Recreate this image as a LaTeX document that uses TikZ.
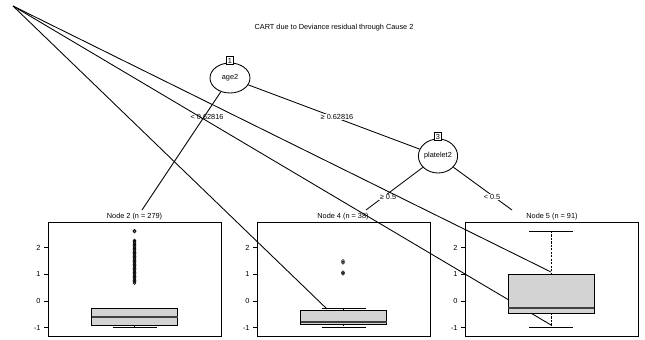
\documentclass[tikz,border=0pt]{standalone}
\usepackage{fontspec}
\setmainfont{Liberation Sans}
\usetikzlibrary{shapes.geometric}
\definecolor{boxgray}{RGB}{211,211,211}
\tikzset{
  innernode/.style={ellipse, draw, fill=white, inner sep=0pt},
  idbox/.style={draw, fill=white, inner sep=0pt, minimum width=5.4pt, minimum height=6.4pt},
  elabel/.style={fill=white, inner sep=0.6pt},
  plabel/.style={inner sep=0.6pt},
  panel/.style={draw, line width=0.7pt},
  bxfill/.style={draw, fill=boxgray, line width=0.6pt},
  whisk/.style={dash pattern=on 1.6pt off 1pt},
  outl/.style={line width=0.4pt},
  ticklab/.style={anchor=east, inner sep=0pt}
}
\begin{document}
\begin{tikzpicture}[x=0.75pt, y=-0.75pt, font=\fontsize{5.5}{6.5}\selectfont, line width=0.65pt]
\useasboundingbox (0,0) rectangle (645,339);

% title
\node (title) at (334,28) {CART due to Deviance residual through Cause 2};

% inner nodes
\node[innernode, minimum width=30pt, minimum height=22.5pt] (n1) at (230,78) {age2};
\node[innernode, minimum width=25.5pt, minimum height=25.5pt] (n3) at (438,156) {platelet2};

% terminal panels
\foreach \xl/\cx/\n/\nn in {48/134.5/2/279, 257/343/4/38, 465/552/5/91} {
  \draw[panel] (\xl,222) rectangle ({\xl+173},336);
  \node (t\n) at (\cx,216.5) {Node \n\ (n = \nn)};
  \foreach \v/\lab in {2/2, 1/1, 0/0, -1/-1} {
    \draw ({\xl-4},{301-26.7*\v}) -- (\xl,{301-26.7*\v});
    \node[ticklab] (k\n\lab) at ({\xl-7},{301-26.7*\v}) {\lab};
  }
}

% edge end points at the terminal panels
\coordinate (e2) at (142,210);
\coordinate (e4) at (366,210);
\coordinate (e5) at (512,210);

% edges
\draw (n1) -- (n3);
\draw (n3) -- (e4);
\draw (n3) -- (e5);
\node[elabel] (l13) at (337,117) {≥ 0.62816};
\node[elabel] (l34) at (388,197) {≥ 0.5};
\node[elabel] (l35) at (492,197) {< 0.5};
\node[plabel] (l12) at (207,117) {< 0.62816};
\draw (n1) -- (e2);

% id boxes
\node[idbox] (id1) at ([yshift=1.5pt]n1.north) {1};
\node[idbox] (id3) at ([yshift=1.5pt]n3.north) {3};

% lines from the upper left corner
\coordinate (o) at (13,6);
\coordinate (a4) at (327,309);
\coordinate (b5) at (551,272);
\coordinate (c5) at (551,325);
\draw (o) -- (a4);
\draw (o) -- (b5);
\draw (o) -- (c5);

% boxplots
\foreach \cx/\uw/\qt/\md/\qb/\lw in {134.5/308/308/317/325/327, 343.5/308/310/322/324/327, 551/231/274/308/313/327} {
  \draw[whisk] (\cx,\uw) -- (\cx,\qt);
  \draw[whisk] (\cx,\qb) -- (\cx,\lw);
  \draw ({\cx-22},\uw) -- ({\cx+22},\uw);
  \draw ({\cx-22},\lw) -- ({\cx+22},\lw);
  \draw[bxfill] ({\cx-43},\qt) rectangle ({\cx+43},\qb);
  \draw[line width=1.1pt, black!75] ({\cx-43},\md) -- ({\cx+43},\md);
}

% outliers
\foreach \v in {0.67,0.72,...,2.32} {
  \draw[outl] (134.5,{301-26.7*\v}) circle[radius=1.1pt];
}
\draw[outl] (134.5,{301-26.7*2.6}) circle[radius=1.1pt];
\draw[outl] (134.5,{301-26.7*2.63}) circle[radius=1.1pt];
\draw[outl] (343,{301-26.7*1.43}) circle[radius=1.1pt];
\draw[outl] (343,{301-26.7*1.5}) circle[radius=1.1pt];
\draw[outl] (343,{301-26.7*1.02}) circle[radius=1.1pt];
\draw[outl] (343,{301-26.7*1.08}) circle[radius=1.1pt];
\end{tikzpicture}
\end{document}
